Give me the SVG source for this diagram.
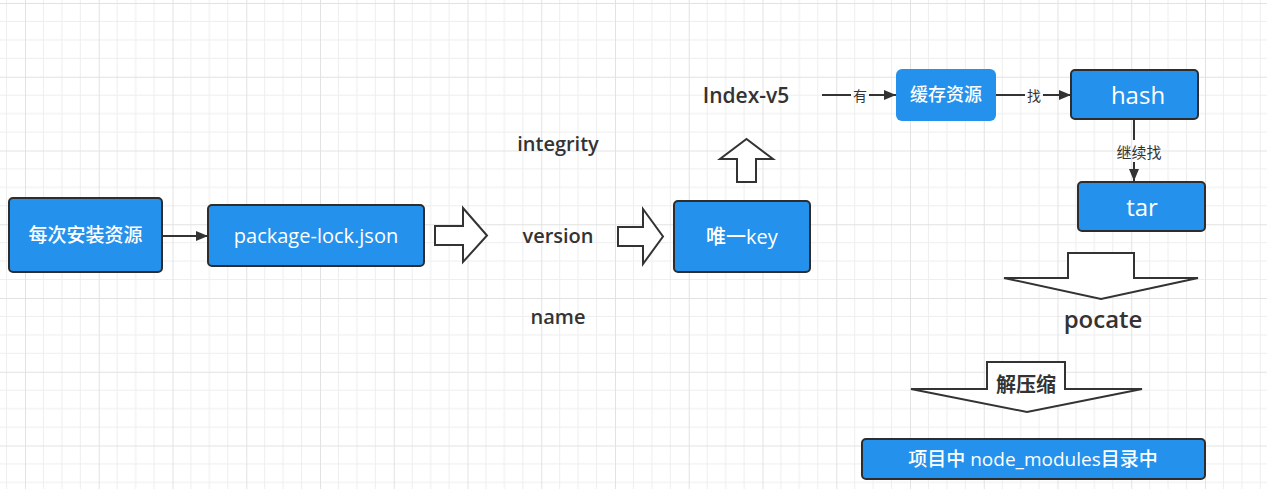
<svg xmlns="http://www.w3.org/2000/svg" width="1267" height="489" viewBox="0 0 1267 489">
<style>
.box{fill:#2491ec;stroke:#2d2d2d;stroke-width:2}
.soft{fill:#2491ec;stroke:none}
.bt{fill:#ffffff;font-family:"Open Sans","Noto Sans CJK SC",sans-serif;text-anchor:middle;dominant-baseline:central;font-weight:500}
.lbl{fill:#333333;font-family:"Open Sans","Noto Sans CJK SC",sans-serif;text-anchor:middle;dominant-baseline:central;font-weight:600}
.cl{fill:#333333;font-family:"Noto Sans CJK SC",sans-serif;text-anchor:middle;dominant-baseline:central;font-size:14px}
.edge{fill:none;stroke:#333333;stroke-width:2}
.blk{fill:#ffffff;stroke:#333333;stroke-width:2;stroke-linejoin:miter}
</style>
<defs>
<pattern id="grid" patternUnits="userSpaceOnUse" x="25" y="3" width="73.75" height="73.75">
<path d="M18.44 0V73.75M36.88 0V73.75M55.31 0V73.75M0 18.44H73.75M0 36.88H73.75M0 55.31H73.75" stroke="#eeeeee" stroke-width="1" fill="none"/>
<path d="M0.5 0V73.75M0 0.5H73.75" stroke="#e2e2e2" stroke-width="1" fill="none"/>
</pattern>
<marker id="ah" markerWidth="12" markerHeight="10" refX="12" refY="5" orient="auto" markerUnits="userSpaceOnUse">
<path d="M0 0L12 5L0 10Z" fill="#333333"/>
</marker>
</defs>
<rect width="1267" height="489" fill="#ffffff"/>
<rect width="1267" height="489" fill="url(#grid)"/>

<g id="connectors">
<path class="edge" d="M162 236H208" marker-end="url(#ah)"/>
<path class="edge" d="M822 95H851M869 95H896" marker-end="url(#ah)"/>
<text class="cl" x="860" y="95">有</text>
<path class="edge" d="M996 95H1025M1043 95H1071" marker-end="url(#ah)"/>
<text class="cl" x="1034" y="95">找</text>
<path class="edge" d="M1134 119V140M1134 162V181" marker-end="url(#ah)"/>
<text class="cl" x="1139" y="151" style="font-size:15px">继续找</text>
</g>

<g id="node-install">
<rect class="box" x="9" y="198" width="153" height="74" rx="4"/>
<text class="bt" x="85.5" y="235" style="font-size:19px">每次安装资源</text>
</g>
<g id="node-lock">
<rect class="box" x="208" y="205" width="216" height="61" rx="4"/>
<text class="bt" x="316" y="235" style="font-size:20px">package-lock.json</text>
</g>
<g id="arrow-1">
<path class="blk" d="M435 226H463V208L487 235.5L463 262V245H435Z"/>
</g>
<g id="label-integrity"><text class="lbl" x="558" y="143" style="font-size:20px">integrity</text></g>
<g id="label-version"><text class="lbl" x="558" y="235" style="font-size:20px">version</text></g>
<g id="label-name"><text class="lbl" x="558" y="316" style="font-size:20px">name</text></g>
<g id="arrow-2">
<path class="blk" d="M618 227H643V209L663 236.5L643 264V246H618Z"/>
</g>
<g id="node-key">
<rect class="box" x="674" y="201" width="136" height="71" rx="4"/>
<text class="bt" x="742" y="236" style="font-size:20px">唯一key</text>
</g>
<g id="arrow-up">
<path class="blk" d="M737 182V159H720L746.5 139L773 159H756V182Z"/>
</g>
<g id="label-index"><text class="lbl" x="746" y="95" style="font-size:21px">Index-v5</text></g>
<g id="node-cache">
<rect class="soft" x="896" y="69" width="100" height="52" rx="6"/>
<text class="bt" x="946" y="94" style="font-size:18px">缓存资源</text>
</g>
<g id="node-hash">
<rect class="box" x="1071" y="70" width="127" height="49" rx="4"/>
<text class="bt" x="1138" y="94" style="font-size:24px">hash</text>
</g>
<g id="node-tar">
<rect class="box" x="1078" y="182" width="127" height="49" rx="4"/>
<text class="bt" x="1142" y="206" style="font-size:24px">tar</text>
</g>
<g id="arrow-pocate">
<path class="blk" d="M1068 253H1134V278H1198L1101 299L1004 278H1068Z"/>
</g>
<g id="label-pocate"><text class="lbl" x="1103" y="318" style="font-size:24px">pocate</text></g>
<g id="arrow-unzip">
<path class="blk" d="M987 362H1065V389H1142L1027 412L911 389H987Z"/>
<text class="lbl" x="1026" y="383" style="font-size:20px;font-weight:700;font-family:'Noto Sans CJK SC',sans-serif">解压缩</text>
</g>
<g id="node-modules">
<rect class="box" x="862" y="439" width="343" height="40" rx="4"/>
<text class="bt" x="1033" y="459" style="font-size:19px">项目中 node_modules目录中</text>
</g>
</svg>
